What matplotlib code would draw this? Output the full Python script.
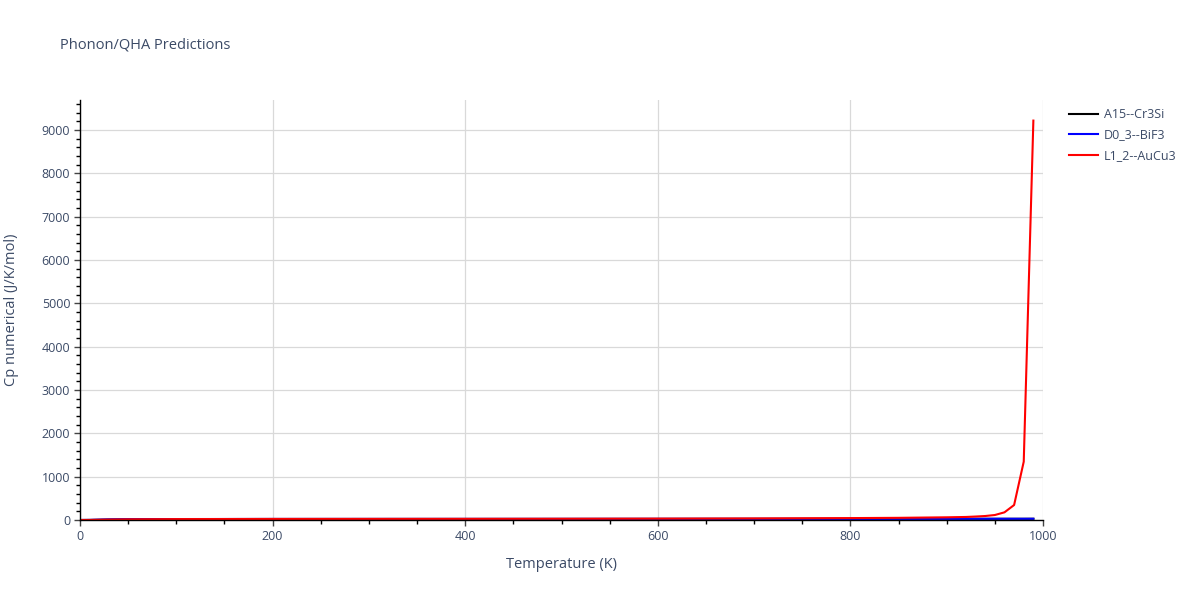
import matplotlib.pyplot as plt
from matplotlib.ticker import MultipleLocator

# temperatures (K) and heat capacity
temps = [0, 10, 20, 30, 50, 100, 200, 300, 400, 500, 600, 700, 800, 850,
         900, 910, 920, 930, 940, 950, 960, 970, 980, 990]

cp_cr3si = [0, 1, 5, 10, 16, 21, 23.5, 24, 24.5, 25, 25.5, 26, 26.5, 27,
            27, 27, 27.5, 27.5, 27.5, 28, 28, 28, 28, 28.5]
cp_bif3 = [0, 2, 8, 13, 18, 22, 24, 24.5, 25, 25.5, 26, 26, 26.5, 27,
           27, 27, 27.5, 27.5, 27.5, 28, 28, 28, 28, 28.5]
cp_aucu3 = [0, 1, 5, 9, 15, 21, 24, 25, 26, 28, 31, 36, 44, 50,
            62, 66, 70, 80, 92, 115, 177, 346, 1346, 9215]

labels = ["A15--Cr3Si", "D0_3--BiF3", "L1_2--AuCu3"]
colors = ["black", "blue", "red"]

text_col = "#3b4a66"
plt.rcParams["font.family"] = ["Open Sans", "DejaVu Sans"]

fig = plt.figure(figsize=(12, 6), dpi=100)
ax = fig.add_axes([80 / 1200, 80 / 600, 963 / 1200, 420 / 600])

for ys, lab, c in zip([cp_cr3si, cp_bif3, cp_aucu3], labels, colors):
    ax.plot(temps, ys, color=c, linewidth=1.5, label=lab)

ax.set_xlim(0, 1000)
ax.set_ylim(0, 9690)

ax.xaxis.set_major_locator(MultipleLocator(200))
ax.xaxis.set_minor_locator(MultipleLocator(50))
ax.yaxis.set_major_locator(MultipleLocator(1000))
ax.yaxis.set_minor_locator(MultipleLocator(200))

ax.grid(True, which="major", color="#d9d9d9", linewidth=0.9)
ax.set_axisbelow(True)

for side in ["top", "right"]:
    ax.spines[side].set_visible(False)
for side in ["left", "bottom"]:
    ax.spines[side].set_color("black")
    ax.spines[side].set_linewidth(1)

ax.tick_params(which="major", direction="out", length=4, width=1, color="#444444",
               labelsize=9, labelcolor=text_col, pad=3)
ax.tick_params(which="minor", direction="out", length=3, width=1, color="black")

ax.set_xlabel("Temperature (K)", fontsize=10.5, color=text_col, labelpad=10)
ax.set_ylabel("Cp numerical (J/K/mol)", fontsize=10.5, color=text_col, labelpad=16)

fig.text(60 / 1200, 1 - 45 / 600, "Phonon/QHA Predictions", fontsize=10.5,
         color=text_col, va="center", ha="left")

leg = ax.legend(loc="upper left", bbox_to_anchor=(1064 / 1200, 1 - 103 / 600),
                bbox_transform=fig.transFigure, frameon=False, fontsize=9,
                handlelength=2.3, handletextpad=0.5, labelspacing=0.6,
                borderaxespad=0)
for t in leg.get_texts():
    t.set_color(text_col)

plt.savefig("out.png")
